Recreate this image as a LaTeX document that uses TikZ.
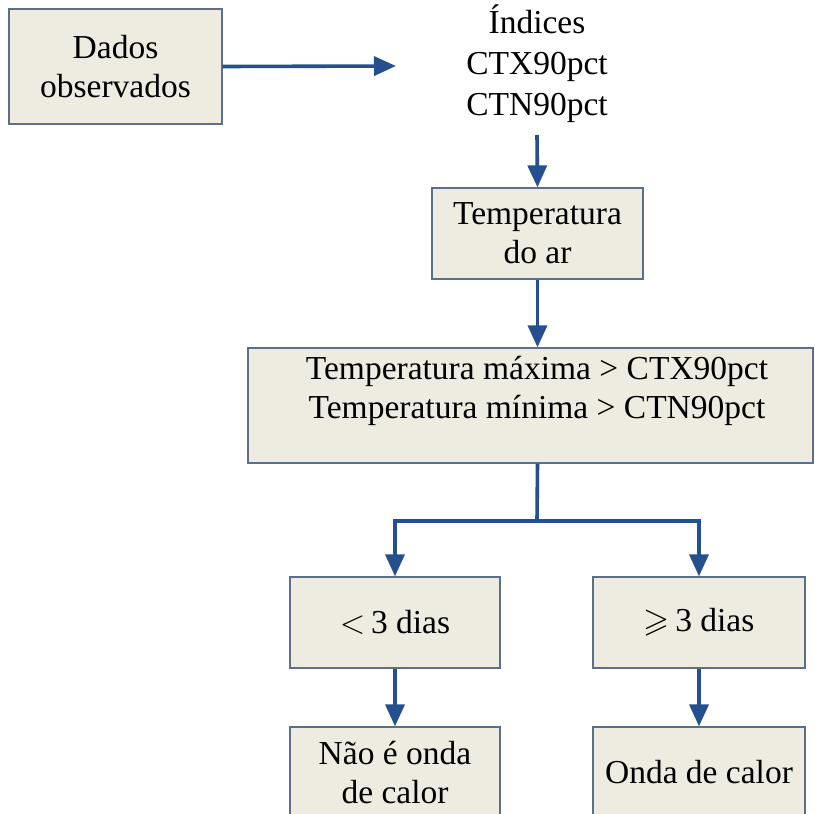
\RequirePackage{fix-cm}
\documentclass[tikz,border=0pt]{standalone}
\usepackage{fontspec}
\usepackage{amssymb}
\setmainfont{Liberation Serif}
\usetikzlibrary{arrows.meta}
\definecolor{boxfill}{HTML}{EEECE1}
\definecolor{boxline}{HTML}{5B6F8A}
\definecolor{flow}{HTML}{24508F}
\tikzset{
  stepbox/.style={draw=boxline, line width=1.3pt, fill=boxfill, inner sep=0pt,
    align=center, font=\fontsize{33.5}{39}\selectfont},
  plain/.style={inner sep=0pt, align=center, font=\fontsize{33.5}{41}\selectfont},
  flowline/.style={draw=flow, line width=3.6pt},
  flowarrow/.style={flowline, -{Triangle[length=22pt,width=19pt]}}
}
\begin{document}
\begin{tikzpicture}[x=1pt, y=-1pt]
  \clip (0,0) rectangle (815,814);
  \fill[white] (0,0) rectangle (815,814);

  % boxes
  \node[stepbox, minimum width=213pt, minimum height=115pt] (dados) at (115.5,66.5) {Dados\\observados};
  \node[plain] (indices) at (537,64) {Índices\\CTX90pct\\CTN90pct};
  \node[stepbox, minimum width=211pt, minimum height=91pt] (temp) at (537.5,233.5) {Temperatura\\do ar};
  \node[stepbox, minimum width=565pt, minimum height=115pt] (limiar) at (530.5,405.5) {};
  \node[plain, font=\fontsize{33.5}{39}\selectfont] (limiartxt) at (537,391) {Temperatura máxima > CTX90pct\\Temperatura mínima > CTN90pct};
  \node[stepbox, minimum width=210pt, minimum height=91pt] (menos) at (395,622.5) {$<$\,3 dias};
  \node[stepbox, minimum width=212pt, minimum height=91pt] (mais) at (699,622.5) {$\geqslant$\,3 dias};
  \node[stepbox, minimum width=210pt, minimum height=91pt] (nao) at (395,772.5) {Não é onda\\de calor};
  \node[stepbox, minimum width=212pt, minimum height=91pt] (onda) at (699,772.5) {Onda de calor};

  % free ends and branch points
  \coordinate (dadosfim) at (396,66);
  \coordinate (indfim) at (537,135);
  \coordinate (ramo) at (537,521);

  % connectors
  \draw[flowarrow] (dados.east) -- (dadosfim);
  \draw[flowarrow] (indfim) -- (temp.north);
  \draw[flowarrow] (temp.south) -- (temp.south |- limiar.north);
  \draw[flowline] (temp.south |- limiar.south) -- (ramo);
  \draw[flowarrow] (ramo) -| (menos.north);
  \draw[flowarrow] (ramo) -| (mais.north);
  \draw[flowarrow] (menos.south) -- (nao.north);
  \draw[flowarrow] (mais.south) -- (onda.north);
\end{tikzpicture}
\end{document}
